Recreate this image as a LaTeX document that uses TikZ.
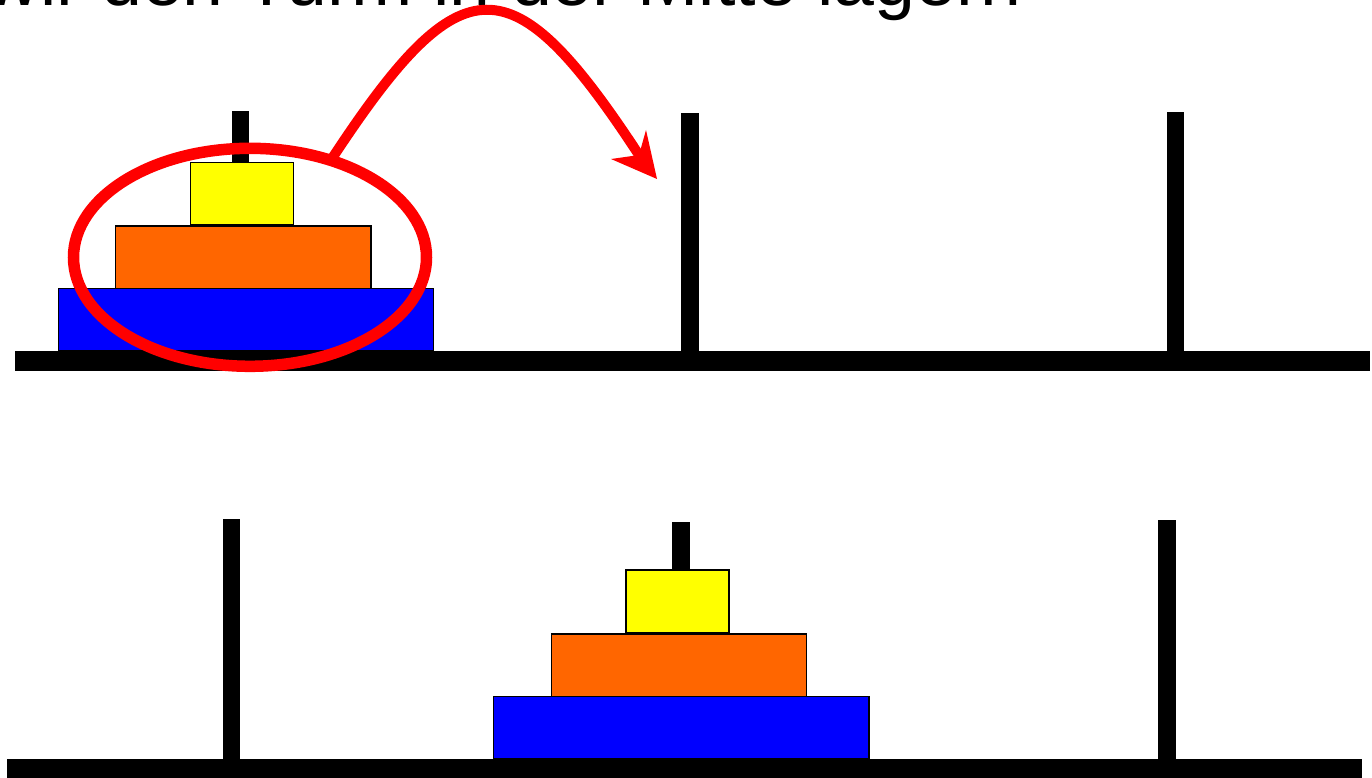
\documentclass[tikz,border=0pt]{standalone}
\usepackage{fontspec}
\setmainfont{Liberation Sans}
\definecolor{diskyellow}{RGB}{255,255,0}
\definecolor{diskorange}{RGB}{255,102,0}
\definecolor{diskblue}{RGB}{0,0,255}
\definecolor{markred}{RGB}{255,0,0}
\tikzset{
  basebar/.style={fill=black},
  pegbar/.style={fill=black},
  disk/.style={draw=black, line width=1.3pt},
  marker/.style={draw=markred, line width=11.5pt},
  movearrow/.style={draw=markred, line width=10pt},
  arrowtip/.style={fill=markred},
  titletext/.style={anchor=base east, inner sep=0pt, font=\fontsize{73.5}{80}\selectfont}
}
\begin{document}
\begin{tikzpicture}[x=1pt,y=-1pt]
\clip (0,0) rectangle (1372,778);
\fill[white] (0,0) rectangle (1372,778);

% title (cut at top, as in the reference)
\node[titletext] (title) at (1022,5.5) {wir den Turm in der Mitte lagern};

% ---------- top panel ----------
\fill[basebar] (15.3,350.7) rectangle (1370,371);
\fill[pegbar] (231.7,111) rectangle (249,351);
\fill[pegbar] (681,113.3) rectangle (699,351);
\fill[pegbar] (1166.7,112.3) rectangle (1184.3,351);
\filldraw[disk, fill=diskblue] (58.7,288.7) rectangle (433.3,350.7);
\filldraw[disk, fill=diskorange] (115.7,226) rectangle (371,288.7);
\filldraw[disk, fill=diskyellow] (190.7,162.3) rectangle (293.3,225);

% red ellipse around the tower
\draw[marker] (250,257.3) ellipse [x radius=176.5, y radius=109];

% red arrow
\coordinate (astart) at (333,157);
\coordinate (anotch) at (639,155);
\coordinate (atip) at (657,179);
\coordinate (abarbl) at (611,159);
\coordinate (abarbr) at (646,130);
\draw[movearrow] (astart) .. controls (462,-39) and (512,-39) .. (anotch);
\fill[arrowtip] (atip) -- (abarbl) -- (anotch) -- (abarbr) -- cycle;

% ---------- bottom panel ----------
\fill[basebar] (6.7,758.5) rectangle (1361.7,790);
\fill[pegbar] (222.7,518.7) rectangle (240.3,759);
\fill[pegbar] (672.3,521.7) rectangle (690,759);
\fill[pegbar] (1157.7,520) rectangle (1175.7,759);
\filldraw[disk, fill=diskblue] (493.7,696.7) rectangle (869,758.7);
\filldraw[disk, fill=diskorange] (551.3,634) rectangle (806.7,696.7);
\filldraw[disk, fill=diskyellow] (626,570) rectangle (729,633);
\end{tikzpicture}
\end{document}
